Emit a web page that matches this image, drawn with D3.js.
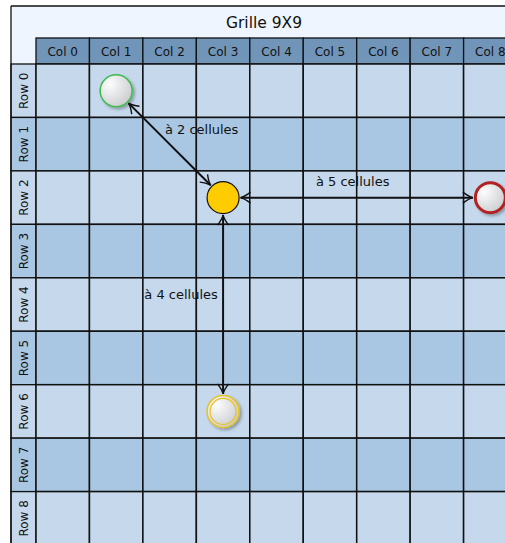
<!DOCTYPE html>
<html><head><meta charset="utf-8">
<script src="https://cdn.jsdelivr.net/npm/d3@7"></script>
<style>body{margin:0;background:#fff}svg{display:block}text{font-family:"DejaVu Sans",sans-serif}</style>
</head><body><svg id="c" width="505" height="543"></svg>
<script>
const title = "Grille 9X9";
const cols = ["Col 0","Col 1","Col 2","Col 3","Col 4","Col 5","Col 6","Col 7","Col 8"];
const rows = ["Row 0","Row 1","Row 2","Row 3","Row 4","Row 5","Row 6","Row 7","Row 8"];
const nodeIds = ["start","green","red","yellow"];
const nodeCol = [3,1,8,3];
const nodeRow = [2,0,2,6];
const nodeKind = ["fill","green","red","double"];
const linkFrom = ["start","start","start"];
const linkTo = ["green","red","yellow"];
const linkLabel = ["à 2 cellules","à 5 cellules","à 4 cellules"];
const labelShift = [[32,-10],[-4,-12],[-42,-6]]; // layout only

const svg = d3.select("#c");
const L = 11, T = 6, gx = 36, gy = 64, cs = 53.45;
const x = d3.scaleBand().domain(cols).range([gx, gx + cs*cols.length]);
const y = d3.scaleBand().domain(rows).range([gy, gy + cs*rows.length]);
const light = "#c5d8ec", dark = "#a9c7e2";

const defs = svg.append("defs");
const g = defs.append("radialGradient").attr("id","grey").attr("cx","30%").attr("cy","30%").attr("r","80%");
g.append("stop").attr("offset","0%").attr("stop-color","#fdfdfd");
g.append("stop").attr("offset","100%").attr("stop-color","#c9cbce");
const f = defs.append("filter").attr("id","sh").attr("x","-30%").attr("y","-30%").attr("width","170%").attr("height","170%");
f.append("feDropShadow").attr("dx",2).attr("dy",2).attr("stdDeviation",1.6).attr("flood-color","#000").attr("flood-opacity",0.3);
defs.append("marker").attr("id","arr").attr("viewBox","-12 -7 14 14").attr("refX",0).attr("refY",0)
  .attr("markerWidth",14).attr("markerHeight",14).attr("markerUnits","userSpaceOnUse").attr("orient","auto-start-reverse")
  .append("path").attr("d","M-10,-5.5 Q-4,-1 0,0 Q-4,1 -10,5.5").attr("fill","none").attr("stroke","#111").attr("stroke-width",1.4);

// title band
svg.append("rect").attr("x",L).attr("y",T).attr("width",600).attr("height",gy-T).attr("fill","#eef5fe");
svg.append("text").attr("x",264).attr("y",28).attr("text-anchor","middle").attr("font-size",15.5).attr("fill","#111").text(title);

// header
svg.selectAll(".hd").data(cols).join("rect").attr("x",d=>x(d)).attr("y",38).attr("width",x.bandwidth()).attr("height",gy-38)
  .attr("fill","#7195b8").attr("stroke","#111").attr("stroke-width",1.3);
svg.selectAll(".ht").data(cols).join("text").attr("x",d=>x(d)+x.bandwidth()/2).attr("y",55.5).attr("text-anchor","middle")
  .attr("font-size",12).attr("fill","#111").text(d=>d);

// row labels
svg.selectAll(".rl").data(rows).join("rect").attr("x",L).attr("y",d=>y(d)).attr("width",gx-L).attr("height",y.bandwidth())
  .attr("fill",(d,i)=>i%2?dark:light).attr("stroke","#111").attr("stroke-width",1.3);
svg.selectAll(".rt").data(rows).join("text").attr("transform",d=>`translate(27.5,${y(d)+y.bandwidth()/2}) rotate(-90)`)
  .attr("text-anchor","middle").attr("font-size",12).attr("fill","#111").text(d=>d);

// cells
const cells = [];
rows.forEach((r,i)=>cols.forEach(c=>cells.push({r,c,i})));
svg.selectAll(".cell").data(cells).join("rect").attr("x",d=>x(d.c)).attr("y",d=>y(d.r)).attr("width",x.bandwidth()).attr("height",y.bandwidth())
  .attr("fill",d=>d.i%2?dark:light).attr("stroke","#111").attr("stroke-width",1.5);

// outer frame
svg.append("line").attr("x1",L).attr("x2",600).attr("y1",T).attr("y2",T).attr("stroke","#111").attr("stroke-width",1.3);
svg.append("line").attr("x1",L).attr("x2",L).attr("y1",T).attr("y2",600).attr("stroke","#111").attr("stroke-width",1.3);

// nodes
const R = 16;
const nodes = nodeIds.map((id,i)=>({id, cx:x(cols[nodeCol[i]])+x.bandwidth()/2, cy:y(rows[nodeRow[i]])+y.bandwidth()/2, kind:nodeKind[i]}));
const byId = Object.fromEntries(nodes.map(n=>[n.id,n]));

// links
const links = linkFrom.map((s,i)=>({s:byId[s], t:byId[linkTo[i]], label:linkLabel[i], sh:labelShift[i]}));
links.forEach(l=>{
  const dx=l.t.cx-l.s.cx, dy=l.t.cy-l.s.cy, d=Math.hypot(dx,dy), ux=dx/d, uy=dy/d;
  svg.append("line").attr("x1",l.s.cx+ux*(R+1.5)).attr("y1",l.s.cy+uy*(R+1.5)).attr("x2",l.t.cx-ux*(R+1.5)).attr("y2",l.t.cy-uy*(R+1.5))
    .attr("stroke","#111").attr("stroke-width",2).attr("marker-start","url(#arr)").attr("marker-end","url(#arr)");
  svg.append("text").attr("x",(l.s.cx+l.t.cx)/2+l.sh[0]).attr("y",(l.s.cy+l.t.cy)/2+l.sh[1]).attr("text-anchor","middle")
    .attr("font-size",13).attr("fill","#111").text(l.label);
});

nodes.forEach(n=>{
  if(n.kind==="fill"){
    svg.append("circle").attr("cx",n.cx).attr("cy",n.cy).attr("r",R).attr("fill","#ffcc00").attr("stroke","#111").attr("stroke-width",1.2);
  } else {
    const gg = svg.append("g").attr("filter","url(#sh)");
    const col = n.kind==="green"?"#3dbb4a":n.kind==="red"?"#b22020":"#e8c220";
    const sw = n.kind==="red"?3:1.5;
    gg.append("circle").attr("cx",n.cx).attr("cy",n.cy).attr("r",n.kind==="red"?R-1:R).attr("fill","url(#grey)").attr("stroke",col).attr("stroke-width",sw);
    if(n.kind==="double") gg.append("circle").attr("cx",n.cx).attr("cy",n.cy).attr("r",R-3).attr("fill","none").attr("stroke",col).attr("stroke-width",1.2);
  }
});
</script></body></html>
